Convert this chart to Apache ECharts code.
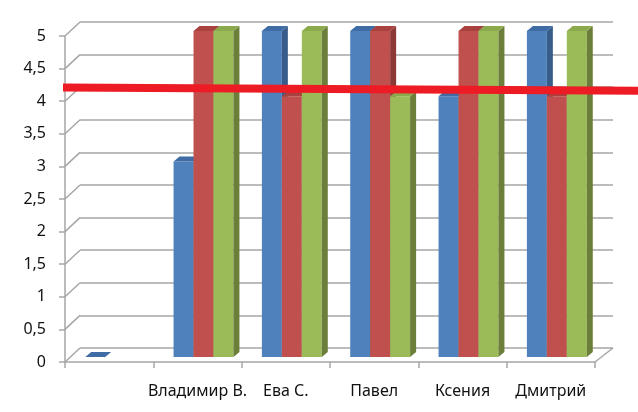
<!DOCTYPE html>
<html lang="ru">
<head>
    <meta charset="UTF-8">
    <script type="text/javascript" src="https://cdn.jsdelivr.net/npm/echarts@6/dist/echarts.min.js"></script>
    <style>
        html, body { margin: 0; padding: 0; background: #fff; }
    </style>
</head>
<body>
    <div id="BarChart3D" style="width: 638px;height: 412px;"></div>
</body>

<script>
    // данные
    var categories = ["", "Владимир В.", "Ева С.", "Павел", "Ксения", "Дмитрий"];
    var blueValues = [0, 3, 5, 5, 4, 5];
    var redValues = [null, 5, 4, 5, 5, 4];
    var greenValues = [null, 5, 5, 4, 5, 5];
    var yTicks = [0, 0.5, 1, 1.5, 2, 2.5, 3, 3.5, 4, 4.5, 5];
    var redLineValues = [4.21, 4.16];

    // "3D" смещения
    var WALL_DEPTH = [15, -14];
    var FLOOR_RIGHT_DEPTH = [18, -14];
    var BAR_SHIFT = [6, -5];
    var BAR_DEPTH = [6, -5];

    var seriesStyles = [
        {front: "#4F81BD", side: "#385D8A", top: "#3F6CA4"},
        {front: "#C0504D", side: "#8C3836", top: "#A9423F"},
        {front: "#9BBB59", side: "#6B7F3A", top: "#8AAA4C"}
    ];

    function toPairs(arr) {
        var out = [];
        for (var i = 0; i < arr.length; i++) {
            if (arr[i] !== null) out.push([i, arr[i]]);
        }
        return out;
    }

    function barRenderer(k) {
        var st = seriesStyles[k];
        return function (params, api) {
            var idx = api.value(0);
            var v = api.value(1);
            var base = api.coord([idx, 0]);
            var top = api.coord([idx, v]);
            var band = api.size([1, 0])[0];
            var w = band * 0.226;
            var x0 = base[0] + BAR_SHIFT[0] - 1.5 * w + k * w;
            var yb = base[1] + BAR_SHIFT[1];
            var yt = top[1] + BAR_SHIFT[1];
            var dx = BAR_DEPTH[0], dy = BAR_DEPTH[1];
            var children = [];
            if (yb - yt > 0.5) {
                children.push({
                    type: "rect",
                    shape: {x: x0, y: yt, width: w, height: yb - yt},
                    style: {fill: st.front}
                });
                children.push({
                    type: "polygon",
                    shape: {points: [[x0 + w, yt], [x0 + w + dx, yt + dy], [x0 + w + dx, yb + dy], [x0 + w, yb]]},
                    style: {fill: st.side}
                });
            }
            children.push({
                type: "polygon",
                shape: {points: [[x0, yt], [x0 + dx, yt + dy], [x0 + w + dx, yt + dy], [x0 + w, yt]]},
                style: {fill: st.top}
            });
            return {type: "group", children: children};
        };
    }

    function wallRenderer(params, api) {
        var v = api.value(0);
        var p = api.coord([0, v]);
        var band = api.size([1, 0])[0];
        var left = p[0] - band / 2;
        var children = [{
            type: "line",
            shape: {x1: left, y1: p[1], x2: left + WALL_DEPTH[0], y2: p[1] + WALL_DEPTH[1]},
            style: {stroke: "#a6a6a6", lineWidth: 1.5}
        }];
        if (v === 0) {
            var right = left + band * categories.length;
            children.push({
                type: "line",
                shape: {x1: right, y1: p[1], x2: right + FLOOR_RIGHT_DEPTH[0], y2: p[1] + FLOOR_RIGHT_DEPTH[1]},
                style: {stroke: "#a6a6a6", lineWidth: 1.5}
            });
        }
        return {type: "group", children: children};
    }

    var chart = echarts.init(document.getElementById("BarChart3D"));

    var seriesList = [];
    seriesList.push({
        type: "custom",
        xAxisIndex: 0,
        yAxisIndex: 0,
        renderItem: wallRenderer,
        data: yTicks.map(function (v) { return [v]; }),
        encode: {y: 0},
        silent: true,
        z: 1
    });
    [blueValues, redValues, greenValues].forEach(function (vals, k) {
        seriesList.push({
            type: "custom",
            xAxisIndex: 0,
            yAxisIndex: 0,
            renderItem: barRenderer(k),
            data: toPairs(vals),
            encode: {x: 0, y: 1},
            z: 3 + k
        });
    });
    seriesList.push({
        type: "line",
        xAxisIndex: 2,
        yAxisIndex: 2,
        data: [[0, redLineValues[0]], [1, redLineValues[1]]],
        symbol: "none",
        lineStyle: {color: "#ED1C24", width: 8},
        z: 10,
        silent: true
    });

    var option = {
        animation: false,
        textStyle: {fontFamily: "Noto Sans"},
        grid: [
            {left: 65, right: 43, top: 36, bottom: 50},
            {left: 80, right: 25, top: 22, bottom: 64},
            {left: 63, right: 0, top: 36, bottom: 50}
        ],
        xAxis: [
            {
                type: "category", gridIndex: 0, data: categories, boundaryGap: true,
                axisLine: {lineStyle: {color: "#a6a6a6", width: 1.5}},
                axisTick: {show: true, length: 6, interval: 0, lineStyle: {color: "#a6a6a6", width: 1.5}},
                axisLabel: {interval: 0, margin: 21, fontSize: 16, color: "#111"}
            },
            {type: "category", gridIndex: 1, data: categories, show: false},
            {type: "value", gridIndex: 2, min: 0, max: 1, show: false}
        ],
        yAxis: [
            {
                type: "value", gridIndex: 0, min: 0, max: 5, interval: 0.5,
                axisLine: {show: true, lineStyle: {color: "#a6a6a6", width: 1.5}},
                axisTick: {show: true, length: 6, lineStyle: {color: "#a6a6a6", width: 1.5}},
                splitLine: {show: false},
                axisLabel: {
                    margin: 19, fontSize: 16, color: "#111",
                    formatter: function (v) { return String(v).replace(".", ","); }
                }
            },
            {
                type: "value", gridIndex: 1, min: 0, max: 5, interval: 0.5,
                axisLine: {show: false}, axisTick: {show: false}, axisLabel: {show: false},
                splitLine: {show: true, lineStyle: {color: "#a6a6a6", width: 1.5}}
            },
            {type: "value", gridIndex: 2, min: 0, max: 5, show: false}
        ],
        series: seriesList
    };

    chart.setOption(option);
</script>
</html>
